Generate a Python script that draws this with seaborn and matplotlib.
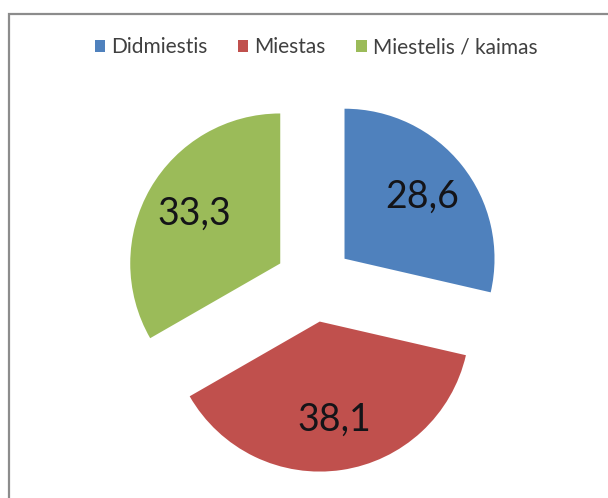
import matplotlib
matplotlib.use("Agg")
import matplotlib.pyplot as plt
from matplotlib.patches import Rectangle, Patch
import seaborn as sns

# Settlement type shares (%)
categories = ["Didmiestis", "Miestas", "Miestelis / kaimas"]
values = [28.6, 38.1, 33.3]
colors = ["#4F81BD", "#C0504D", "#9BBB59"]

sns.set_theme(style="white")
plt.rcParams["font.family"] = ["Lato", "DejaVu Sans"]

W, H = 608, 498
fig = plt.figure(figsize=(W / 100, H / 100), dpi=100)
fig.patch.set_facecolor("white")
ax = fig.add_axes([0, 0, 1, 1])

# Pixel-based data coordinates for the canvas
cx, cy, r = 314, H - 283, 150

wedges, texts, autotexts = ax.pie(
    values,
    colors=colors,
    startangle=90,
    counterclock=False,
    explode=[39] * len(values),
    radius=r,
    center=(cx, cy),
    autopct=lambda p: f"{p:.1f}".replace(".", ","),
    pctdistance=0.66,
    wedgeprops=dict(linewidth=0),
    textprops=dict(fontsize=27, color="#141418"),
)

ax.set_xlim(0, W)
ax.set_ylim(0, H)
ax.set_aspect("equal")
ax.axis("off")

# Chart frame
ax.add_patch(Rectangle((8.5, -10), W + 10, H - 13.5 + 10, fill=False,
                       edgecolor="#8c8c8c", linewidth=1.6, clip_on=False))

handles = [Patch(facecolor=c, edgecolor="none", label=n)
           for c, n in zip(colors, categories)]
fig.legend(handles=handles, loc="center", bbox_to_anchor=(316 / W, 1 - 47 / H),
           ncol=3, frameon=False, fontsize=15, handlelength=0.5,
           handleheight=0.5, handletextpad=0.3, columnspacing=1.45,
           labelcolor="#404040")

fig.savefig("out.png", dpi=100, facecolor="white")
